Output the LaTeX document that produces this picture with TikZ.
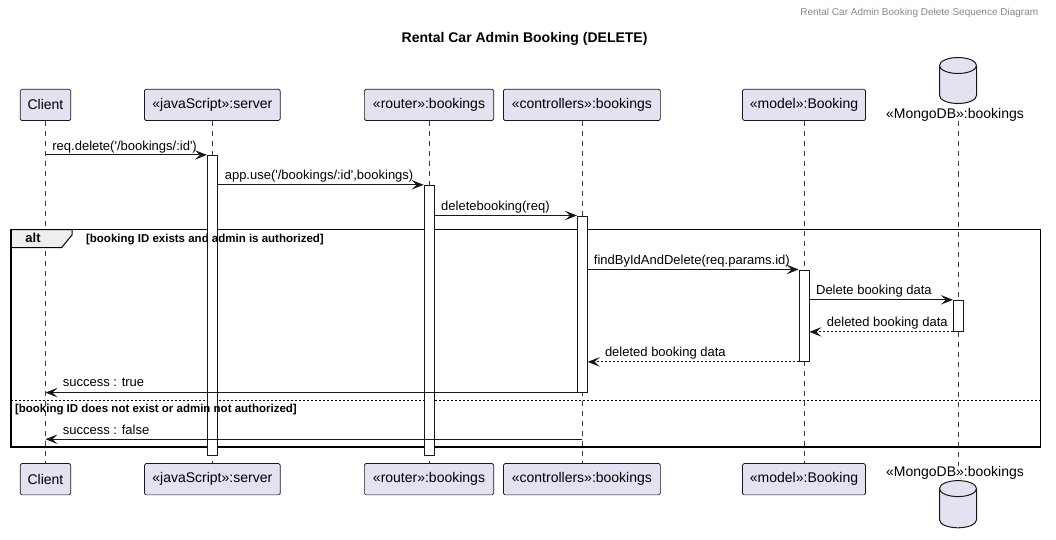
\documentclass[tikz,border=0pt]{standalone}
\usepackage{fontspec}
\setmainfont{Liberation Sans}
\usetikzlibrary{arrows.meta}
\definecolor{pfill}{HTML}{E2E2F0}
\definecolor{pline}{HTML}{181818}
\definecolor{tabfill}{HTML}{EEEEEE}
\definecolor{hdr}{HTML}{888888}
\newcommand\sq{\textquotesingle}
\begin{document}
\begin{tikzpicture}[x=1pt,y=-1pt,
  part/.style={draw=pline, fill=pfill, line width=0.7pt, rounded corners=1.5pt, minimum height=31.3pt, inner sep=0pt, font=\fontsize{14}{16}\selectfont},
  dbshape/.style={draw=pline, fill=pfill, line width=1pt},
  dblabel/.style={inner sep=0pt, font=\fontsize{14}{16}\selectfont},
  actbar/.style={draw=pline, fill=white, line width=0.8pt, minimum width=10pt, inner sep=0pt},
  life/.style={draw=pline!85, line width=0.6pt, dash pattern=on 5pt off 5pt},
  msg/.style={draw=pline, line width=0.9pt, -{Stealth[length=12pt,width=9.5pt,inset=5pt]}},
  ret/.style={msg, dash pattern=on 2pt off 2pt},
  lbl/.style={anchor=base west, inner sep=0pt, font=\fontsize{13}{15}\selectfont},
  guard/.style={anchor=base west, inner sep=0pt, font=\bfseries\fontsize{11.5}{13}\selectfont},
  frameline/.style={draw=black, line width=1.4pt},
  sepline/.style={draw=black, line width=0.8pt, dash pattern=on 2pt off 2pt}]
\useasboundingbox[fill=white] (0,0) rectangle (1056,540);

% header and title
\node[anchor=east, inner sep=0pt, text=hdr, font=\fontsize{10}{12}\selectfont] (hdr) at (1038.4,12.5) {Rental Car Admin Booking Delete Sequence Diagram};
\node[inner sep=0pt, font=\bfseries\fontsize{14}{16}\selectfont] (title) at (524.6,38.7) {Rental Car Admin Booking (DELETE)};

% participants (top)
\node[part, minimum width=50.5pt] (p1) at (45.5,104.9) {Client};
\node[part, minimum width=135.7pt] (p2) at (212.3,104.9) {«javaScript»:server};
\node[part, minimum width=129.3pt] (p3) at (429,104.9) {«router»:bookings};
\node[part, minimum width=156.9pt] (p4) at (581.9,104.9) {«controllers»:bookings};
\node[part, minimum width=122.9pt] (p5) at (804,104.9) {«model»:Booking};
% participants (bottom)
\node[part, minimum width=50.5pt] (q1) at (45.5,479.2) {Client};
\node[part, minimum width=135.7pt] (q2) at (212.3,479.2) {«javaScript»:server};
\node[part, minimum width=129.3pt] (q3) at (429,479.2) {«router»:bookings};
\node[part, minimum width=156.9pt] (q4) at (581.9,479.2) {«controllers»:bookings};
\node[part, minimum width=122.9pt] (q5) at (804,479.2) {«model»:Booking};

% database (top)
\draw[dbshape] (939.5,65.5) -- (939.5,95.5) arc[start angle=180,end angle=360,x radius=18.5pt,y radius=8pt] -- (976.5,65.5) arc[start angle=0,end angle=180,x radius=18.5pt,y radius=8pt] -- cycle;
\draw[dbshape] (939.5,65.5) arc[start angle=180,end angle=360,x radius=18.5pt,y radius=8pt];
\node[dblabel] (p6) at (955,114.5) {«MongoDB»:bookings};
% database (bottom)
\node[dblabel] (q6) at (955,473.2) {«MongoDB»:bookings};
\draw[dbshape] (939.5,488.6) -- (939.5,519.8) arc[start angle=180,end angle=360,x radius=18.5pt,y radius=8pt] -- (976.5,488.6) arc[start angle=0,end angle=180,x radius=18.5pt,y radius=8pt] -- cycle;
\draw[dbshape] (939.5,488.6) arc[start angle=180,end angle=360,x radius=18.5pt,y radius=8pt];

% lifelines
\draw[life] (p1) -- (q1);
\draw[life] (p2) -- (q2);
\draw[life] (p3) -- (q3);
\draw[life] (p4) -- (q4);
\draw[life] (p5) -- (q5);
\coordinate (l6t) at (958,121.5);
\coordinate (l6b) at (958,465.5);
\draw[life] (l6t) -- (l6b);

% alt frame
\draw[fill=tabfill, draw=black, line width=1pt] (10.8,229.5) -- (72,229.5) -- (72,235) -- (61.7,247.5) -- (10.8,247.5) -- cycle;
\draw[frameline] (10.8,229.5) rectangle (1040.5,447);
\coordinate (s1) at (10.8,400.5);
\coordinate (s2) at (1040.5,400.5);
\draw[sepline] (s1) -- (s2);

% activation bars
\node[actbar, minimum height=299.8pt, anchor=north] (a2) at (212.3,154.9) {};
\node[actbar, minimum height=269.9pt, anchor=north] (a3) at (429,184.8) {};
\node[actbar, minimum height=176.3pt, anchor=north] (a4) at (582.3,215.5) {};
\node[actbar, minimum height=91.6pt, anchor=north] (a5) at (804,269.5) {};
\node[actbar, minimum height=31.3pt, anchor=north] (a6) at (958.3,299.8) {};

% frame texts (on top of bars)
\node[inner sep=0pt, font=\bfseries\fontsize{13}{15}\selectfont] (alt) at (33,238.3) {alt};
\node[guard] (g1) at (85.9,242) {[booking ID exists and admin is authorized]};
\node[guard] (g2) at (14.8,412) {[booking ID does not exist or admin not authorized]};

% messages
\coordinate (m1) at (45.5,154.9);
\draw[msg] (m1) -- (a2.north west);
\node[lbl] (t1) at (52.2,150) {req.delete(\sq/bookings/:id\sq)};

\coordinate (m2) at (217.3,184.8);
\draw[msg] (a2.east |- m2) -- (a3.north west);
\node[lbl] (t2) at (224.6,179.9) {app.use(\sq/bookings/:id\sq,bookings)};

\coordinate (m3) at (434,215.5);
\draw[msg] (a3.east |- m3) -- (a4.north west);
\node[lbl] (t3) at (441,210.6) {deletebooking(req)};

\coordinate (m4) at (587,269.5);
\draw[msg] (a4.east |- m4) -- (a5.north west);
\node[lbl] (t4) at (593.7,264.6) {findByIdAndDelete(req.params.id)};

\coordinate (m5) at (809,299.8);
\draw[msg] (a5.east |- m5) -- (a6.north west);
\node[lbl] (t5) at (815.9,294.9) {Delete booking data};

\draw[ret] (a6.south west) -- (a5.east |- a6.south west);
\node[lbl] (t6) at (826.7,326.2) {deleted booking data};

\draw[ret] (a5.south west) -- (a4.east |- a5.south west);
\node[lbl] (t7) at (604.8,356.2) {deleted booking data};

\draw[msg] (a4.south west) -- (p1 |- a4.south west);
\node[lbl] (t8) at (62.6,386.9) {success : true};

\coordinate (m9) at (581.9,439.2);
\draw[msg] (m9) -- (p1 |- m9);
\node[lbl] (t9) at (62.6,434.3) {success : false};
\end{tikzpicture}
\end{document}
